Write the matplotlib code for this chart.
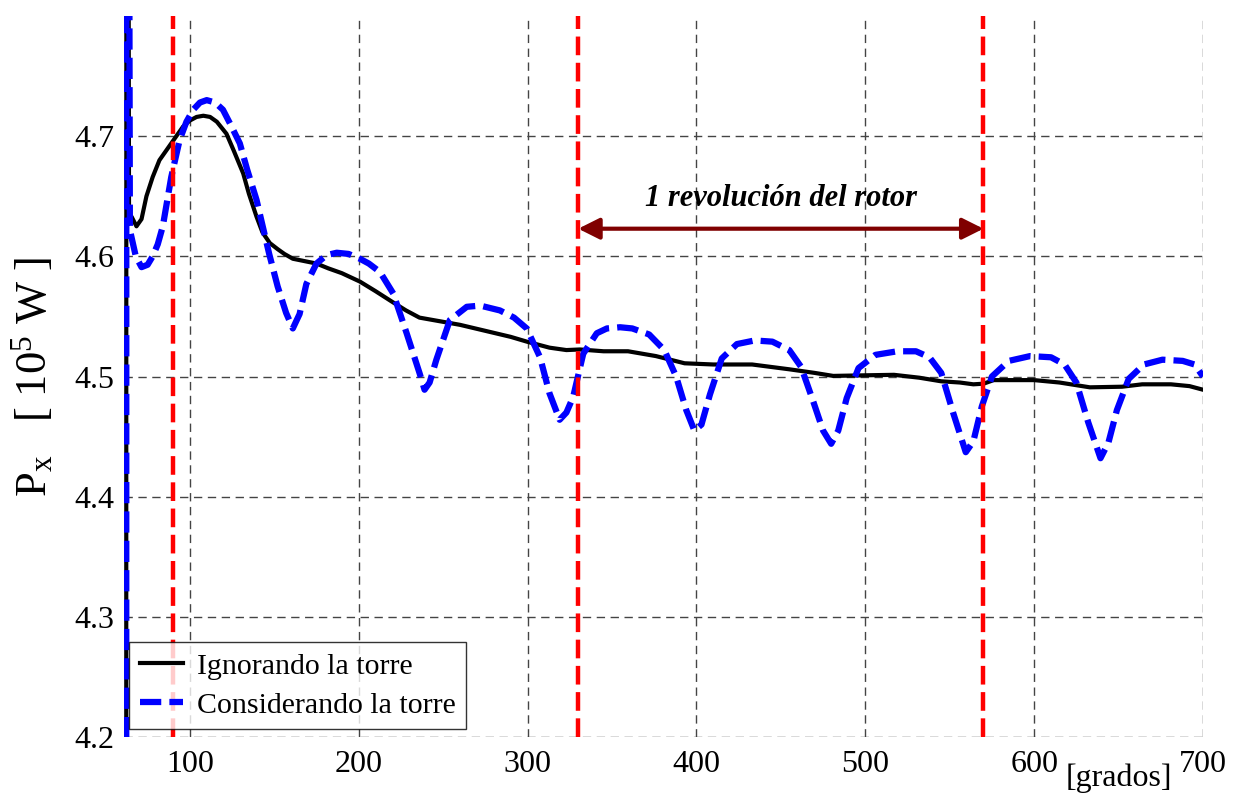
import matplotlib
matplotlib.use("Agg")
import matplotlib.pyplot as plt

plt.rcParams['font.family'] = ['Liberation Serif', 'DejaVu Serif']
plt.rcParams['mathtext.fontset'] = 'custom'
plt.rcParams['mathtext.rm'] = 'Liberation Serif'
plt.rcParams['mathtext.it'] = 'Liberation Serif:italic'

# potencia sin torre (grados, 10^5 W)
ang_sin = [62, 62.5, 64, 65.5, 68.4, 71.4, 74.3, 78, 82, 86, 89, 92, 96, 100, 104, 108, 112,
           116, 121.7, 126, 131.6, 135, 139.5, 143, 147.4, 152, 156, 161, 168, 175, 182, 190,
           200.7, 210, 220, 228, 236, 248, 260, 275, 290, 299.6, 313, 323, 331, 345, 359.5,
           376, 393, 410, 433, 455, 470, 481, 500, 517, 532, 545, 556, 564, 570, 576, 590,
           600, 615, 633, 652, 664, 681, 692, 700]
p_sin = [0.0, 6.0, 4.63, 4.633, 4.625, 4.631, 4.650, 4.666, 4.680, 4.688, 4.694, 4.700,
         4.708, 4.713, 4.716, 4.717, 4.716, 4.712, 4.702, 4.688, 4.669, 4.652, 4.633, 4.620,
         4.611, 4.606, 4.602, 4.598, 4.596, 4.594, 4.590, 4.586, 4.579, 4.571, 4.562, 4.555,
         4.549, 4.546, 4.543, 4.538, 4.533, 4.529, 4.524, 4.522, 4.5225, 4.521, 4.521,
         4.517, 4.511, 4.510, 4.510, 4.506, 4.503, 4.5005, 4.501, 4.5014, 4.499, 4.496,
         4.495, 4.4935, 4.494, 4.497, 4.497, 4.497, 4.495, 4.491, 4.4915, 4.4935, 4.4935,
         4.492, 4.489]

# potencia con torre
ang_con = [62, 62.5, 64.5, 68, 71.4, 75, 78, 81, 84, 89, 94, 98, 102, 106, 110, 115, 119.6,
           124, 129.6, 134, 139.5, 147, 152, 157, 161, 165, 169, 175, 181, 187, 194, 200.7,
           206, 212.6, 220.5, 228.4, 236, 239, 242, 246, 254, 264, 272, 283.6, 292, 299.5,
           307.4, 313, 319, 323, 327, 333, 341, 347, 354.8, 362, 372, 381, 388, 394, 398.8,
           403, 408, 415, 424, 434.5, 445, 455, 462, 469, 475, 479.8, 484, 489, 496, 506,
           519, 530, 538, 545, 552, 559.5, 564, 569, 575, 585, 597.6, 610, 618, 625, 632,
           639.3, 644, 649, 656, 665, 676, 688, 695, 700]
p_con = [0.0, 6.0, 4.622, 4.600, 4.591, 4.593, 4.600, 4.610, 4.625, 4.666, 4.697, 4.712,
         4.722, 4.728, 4.730, 4.728, 4.722, 4.710, 4.694, 4.672, 4.647, 4.602, 4.575, 4.553,
         4.540, 4.552, 4.577, 4.594, 4.601, 4.603, 4.602, 4.598, 4.594, 4.587, 4.569,
         4.536, 4.503, 4.489, 4.495, 4.514, 4.547, 4.558, 4.559, 4.555, 4.549, 4.540,
         4.516, 4.486, 4.464, 4.470, 4.483, 4.519, 4.536, 4.540, 4.541, 4.540, 4.535,
         4.522, 4.500, 4.472, 4.455, 4.460, 4.485, 4.515, 4.527, 4.530, 4.529, 4.522,
         4.508, 4.480, 4.455, 4.444, 4.455, 4.482, 4.507, 4.518, 4.521, 4.521, 4.516,
         4.503, 4.470, 4.437, 4.446, 4.475, 4.500, 4.513, 4.517, 4.516, 4.510, 4.495,
         4.462, 4.432, 4.445, 4.472, 4.498, 4.510, 4.514, 4.513, 4.510, 4.500]

# inicio de cada revolución
rev_marks = [90, 330, 570]
arrow_y = 4.623
label_y = 4.648

x_ticks = [100, 200, 300, 400, 500, 600, 700]
y_ticks = [4.2, 4.3, 4.4, 4.5, 4.6, 4.7]

fig = plt.figure(figsize=(12.36, 7.96), dpi=100)
ax = fig.add_axes([0.1003, 0.0741, 0.873, 0.9058])

ax.plot(ang_sin, p_sin, color='black', lw=3, label='Ignorando la torre', zorder=3)
ax.plot(ang_con, p_con, color='blue', lw=4.5, dashes=(3.4, 1.3),
        label='Considerando la torre', zorder=4)

for xr in rev_marks:
    ax.axvline(xr, color='red', lw=3.2, dashes=(4.2, 1.7), zorder=5)

ax.annotate('', xy=(rev_marks[1], arrow_y), xytext=(rev_marks[2], arrow_y),
            arrowprops=dict(arrowstyle='<|-|>', color='#800000', lw=3,
                            mutation_scale=32, shrinkA=0, shrinkB=0), zorder=6)
ax.text((rev_marks[1] + rev_marks[2]) / 2, label_y, '1 revolución del rotor',
        ha='center', va='center', fontsize=22, fontweight='bold', fontstyle='italic')

ax.set_xlim(61, 700)
ax.set_ylim(4.2, 4.8)
ax.set_xticks(x_ticks)
ax.set_yticks(y_ticks)
ax.tick_params(length=0, labelsize=23)
ax.tick_params(axis='x', pad=9)
ax.tick_params(axis='y', pad=7)
for s in ax.spines.values():
    s.set_visible(False)
ax.grid(True, color='#444444', lw=1, dashes=(6, 4))

ax.set_ylabel(r'P$_{\mathrm{x}}$   [ 10$^{5}$ W ]', fontsize=32, labelpad=14)
fig.text(0.905, 0.022, '[grados]', fontsize=23, ha='center', va='center')

leg = ax.legend(loc='lower left', bbox_to_anchor=(0.005, 0.011), borderaxespad=0,
                fontsize=21.5, frameon=True, fancybox=False, handlelength=1.45,
                handletextpad=0.45, borderpad=0.35, labelspacing=0.4)
leg.get_frame().set_edgecolor('black')
leg.get_frame().set_linewidth(1)
leg.set_zorder(10)

fig.savefig('out.png', dpi=100)
